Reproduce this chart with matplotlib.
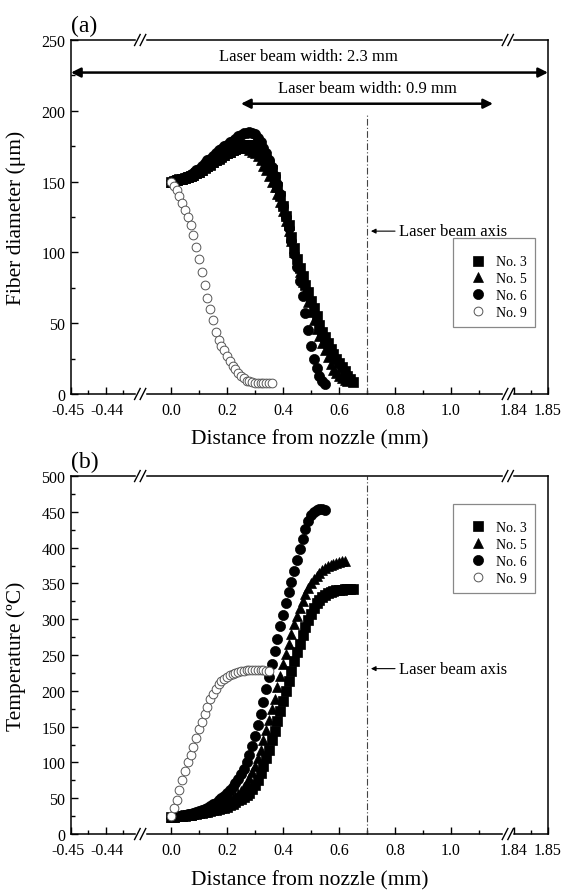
import numpy as np
import matplotlib.pyplot as plt
from matplotlib.transforms import ScaledTranslation

plt.rcParams['font.family'] = ['Liberation Serif', 'DejaVu Serif']

# broken x axis: real distance (mm) -> drawing position
seg_real = [-0.45, -0.43, -0.110, 1.203, 1.8384, 1.85]
seg_pos = [-0.357, -0.1106, -0.110, 1.203, 1.2036, 1.3464]

def fwd(x):
    return np.interp(x, seg_real, seg_pos)

def inv(u):
    return np.interp(u, seg_pos, seg_real)

x_major = [-0.45, -0.44, 0.0, 0.2, 0.4, 0.6, 0.8, 1.0, 1.84, 1.85]
x_major_labels = ['-0.45', '-0.44', '0.0', '0.2', '0.4', '0.6', '0.8', '1.0', '1.84', '1.85']
x_minor = [-0.445, -0.435, 0.1, 0.3, 0.5, 0.7, 0.9, 1.1, 1.845]

dist = [0.00, 0.01, 0.02, 0.03, 0.04, 0.05, 0.06, 0.07, 0.08, 0.09,
        0.10, 0.11, 0.12, 0.13, 0.14, 0.15, 0.16, 0.17, 0.18, 0.19,
        0.20, 0.21, 0.22, 0.23, 0.24, 0.25, 0.26, 0.27, 0.28, 0.29,
        0.30, 0.31, 0.32, 0.33, 0.34, 0.35, 0.36, 0.37, 0.38, 0.39,
        0.40, 0.41, 0.42, 0.43, 0.44, 0.45, 0.46, 0.47, 0.48, 0.49,
        0.50, 0.51, 0.52, 0.53, 0.54, 0.55, 0.56, 0.57, 0.58, 0.59,
        0.60, 0.61, 0.62, 0.63, 0.64, 0.65]

# (a) fiber diameter (um)
dia_3 = [150, 150.5, 151, 151.5, 152, 152.5, 153, 154, 155, 156,
         157, 158, 159.5, 161, 162, 163.5, 165, 166, 167.5, 169,
         170, 171, 172, 173, 174, 175, 175.5, 176, 176, 175.5,
         174.5, 173, 171, 168.5, 165.5, 162, 158, 153, 146, 140,
         133, 126, 119, 111, 103, 95, 89, 83, 77, 72,
         66, 61, 55, 49, 44, 40, 36, 32, 28.5, 25,
         22, 19, 16, 13, 10.5, 8.5]
dia_5 = [150, 150.5, 151, 151.5, 152, 152.5, 153, 154, 155, 156,
         157, 158.5, 160, 161, 162.5, 164, 165, 166.5, 168, 169,
         170, 171, 172, 173, 173.5, 174, 174, 173.5, 172.5, 171,
         170, 168, 165, 161, 158, 154, 150, 146, 141, 135.5,
         129, 122, 115, 108, 100, 93, 86, 79, 72, 65,
         58, 52, 46, 41, 36, 31, 26, 21, 17, 14.5,
         12.5, 11, 10, 9]
dia_6 = [150, 151, 151, 152, 152, 153, 154, 155, 156, 158,
         159, 161, 163, 165, 166, 168, 170, 172, 173, 175,
         176, 178, 179, 180, 182, 183, 184, 184.5, 185, 184.5,
         183.5, 181, 178, 174, 170, 165, 160, 154, 148, 141,
         133, 125, 117, 108, 99, 90, 80, 69, 57, 45,
         34, 25, 18, 12.5, 9, 7]
dia_9 = [150, 147, 144, 140, 135, 130, 125, 119, 112, 104,
         95, 86, 77, 68, 60, 52, 44, 38, 34, 31,
         27, 23, 20, 17.5, 15, 13, 11, 9.5, 9, 8.5,
         8, 8, 7.5, 7.5, 7.5, 7.5, 7.5]

# (b) temperature (C)
tmp_3 = [24, 24.3, 24.6, 25, 25.4, 25.8, 26.3, 26.8, 27.4, 28,
         28.7, 29.5, 30.3, 31.2, 32.1, 33, 34, 35, 36, 37,
         38, 40, 42, 44.5, 47, 49.5, 52, 55, 58, 63,
         69, 76, 85, 95, 106, 118, 131, 144, 158, 172,
         186, 200, 214, 228, 241, 254, 266, 278, 289, 299,
         308, 316, 322, 327, 331, 334, 336.5, 338, 339.5, 340.5,
         341, 341.5, 342, 342, 342, 342]
tmp_5 = [24, 24.3, 24.6, 25, 25.5, 26, 26.5, 27.2, 28, 29,
         30, 31, 32, 33.3, 34.7, 36.2, 37.8, 39.5, 41.5, 43.7,
         46, 48.5, 51, 53.5, 56.5, 60, 65, 71, 78, 86,
         95, 106, 118, 131, 145, 159, 174, 189, 205, 221,
         237, 252, 266, 280, 293, 305, 316, 326, 335, 343,
         350, 356, 361, 365, 368.5, 371.5, 374, 376, 377.5, 379,
         380, 381, 381.5]
tmp_6 = [24, 24.5, 25, 25.5, 26, 27, 27.5, 28.5, 29.5, 30.5,
         32, 33.5, 35, 37, 39, 41.5, 44, 47, 50, 53,
         57, 61, 66, 71, 77, 84, 91, 100, 111, 123,
         137, 152, 168, 185, 202, 220, 238, 255, 273, 291,
         306, 322, 338, 352, 367, 383, 398, 412, 426, 437,
         445, 450, 453, 454, 454, 453]
tmp_9 = [25, 36, 48, 61, 75, 88, 100, 111, 122, 134,
         146, 157, 168, 178, 188, 196, 203, 209, 213.5, 217,
         220, 222.5, 224, 225.5, 226.5, 227.5, 228, 228.5, 229, 229,
         229, 229, 228.5, 228.5, 228, 228]

fig = plt.figure(figsize=(5.74, 8.95), dpi=100)
ax1 = fig.add_axes([0.1237, 0.5587, 0.831, 0.3955])
ax2 = fig.add_axes([0.1237, 0.0670, 0.831, 0.400])


def plot_series(ax, s3, s5, s6, s9):
    ax.plot(dist[:len(s3)], s3, 's', ms=6.5, mfc='black', mec='black', mew=0.5, label='No. 3')
    ax.plot(dist[:len(s5)], s5, '^', ms=7.5, mfc='black', mec='black', mew=0.5, label='No. 5')
    ax.plot(dist[:len(s6)], s6, 'o', ms=7.3, mfc='black', mec='black', mew=0.5, label='No. 6')
    ax.plot(dist[:len(s9)], s9, 'o', ms=6.3, mfc='white', mec='#555555', mew=0.7, label='No. 9')


def style_axes(ax, ymax, ystep):
    ax.set_xscale('function', functions=(fwd, inv))
    ax.set_xlim(-0.45, 1.85)
    ax.set_ylim(0, ymax)
    ax.set_xticks(x_major, labels=x_major_labels)
    ax.set_xticks(x_minor, minor=True)
    ax.set_yticks(np.arange(0, ymax + 1, ystep))
    ax.set_yticks(np.arange(ystep / 2, ymax, ystep), minor=True)
    ax.tick_params(which='both', direction='in', top=False, right=False, width=1)
    ax.tick_params(which='major', length=5, labelsize=11.5)
    ax.tick_params(axis='x', which='major', pad=6)
    ax.tick_params(axis='y', which='major', pad=4)
    ax.tick_params(which='minor', length=3)
    for sp in ax.spines.values():
        sp.set_linewidth(1.1)
    # the two left labels sit very close, nudge them apart a little
    labels = ax.get_xticklabels()
    labels[0].set_transform(labels[0].get_transform() + ScaledTranslation(-2 / 72, 0, fig.dpi_scale_trans))
    labels[1].set_transform(labels[1].get_transform() + ScaledTranslation(1 / 72, 0, fig.dpi_scale_trans))
    ax.set_xlabel('Distance from nozzle (mm)', fontsize=15.5)
    ax.xaxis.set_label_coords(0.5, -0.1)
    ax.yaxis.set_label_coords(-0.095, 0.5)


def draw_breaks(ax):
    bb = ax.get_position()
    w = bb.width * fig.get_figwidth() * fig.dpi
    h = bb.height * fig.get_figheight() * fig.dpi
    for xb in (-0.11, 1.203):
        f = ax.transAxes.inverted().transform(ax.transData.transform((xb, 0)))[0]
        for y in (0, 1):
            ax.plot([f - 3.5 / w, f + 3.5 / w], [y, y], color='white', lw=2.5,
                    transform=ax.transAxes, clip_on=False, zorder=5)
            for off in (-2.8, 2.8):
                ax.plot([f + (off - 2.8) / w, f + (off + 2.8) / w], [y - 5.5 / h, y + 5.5 / h],
                        color='black', lw=1, transform=ax.transAxes, clip_on=False, zorder=6)


def laser_axis(ax, ytop, ytext):
    ax.plot([0.7, 0.7], [0, ytop], color='#444444', lw=0.8, dashes=(6, 2, 1, 2))
    ax.annotate('Laser beam axis', xy=(0.714, ytext), xytext=(0.815, ytext),
                fontsize=12, va='center', ha='left',
                arrowprops=dict(arrowstyle='-|>', color='black', lw=0.8,
                                mutation_scale=7, shrinkA=1, shrinkB=0))


def add_legend(ax, ytop):
    leg = ax.legend(loc='upper right', bbox_to_anchor=(0.973, ytop), fontsize=10,
                    frameon=True, fancybox=False, edgecolor='#888888', framealpha=1,
                    handlelength=2.4, handletextpad=0.1, labelspacing=0.28,
                    borderpad=0.6, borderaxespad=0, numpoints=1,
                    title=' ', title_fontsize=5)
    leg.get_frame().set_linewidth(0.9)


# (a) fiber diameter
plot_series(ax1, dia_3, dia_5, dia_6, dia_9)
style_axes(ax1, 250, 50)
ax1.set_ylabel('Fiber diameter (\u03bcm)', fontsize=15.5)
laser_axis(ax1, 198, 115)
ax1.annotate('', xy=(-0.45, 227), xytext=(1.85, 227),
             arrowprops=dict(arrowstyle='<|-|>', color='black', lw=1.8,
                             mutation_scale=14, shrinkA=0, shrinkB=0))
ax1.text(0.49, 239, 'Laser beam width: 2.3 mm', ha='center', va='center', fontsize=12)
ax1.annotate('', xy=(0.25, 205), xytext=(1.15, 205),
             arrowprops=dict(arrowstyle='<|-|>', color='black', lw=1.8,
                             mutation_scale=14, shrinkA=0, shrinkB=0))
ax1.text(0.70, 216, 'Laser beam width: 0.9 mm', ha='center', va='center', fontsize=12)
add_legend(ax1, 0.440)
ax1.text(0.0, 1.012, '(a)', transform=ax1.transAxes, fontsize=17, ha='left', va='bottom')
draw_breaks(ax1)

# (b) temperature
plot_series(ax2, tmp_3, tmp_5, tmp_6, tmp_9)
style_axes(ax2, 500, 50)
ax2.set_ylabel('Temperature (\u00baC)', fontsize=15.5)
laser_axis(ax2, 500, 231)
add_legend(ax2, 0.922)
ax2.text(0.0, 1.012, '(b)', transform=ax2.transAxes, fontsize=17, ha='left', va='bottom')
draw_breaks(ax2)

fig.savefig('out.png', dpi=100)
